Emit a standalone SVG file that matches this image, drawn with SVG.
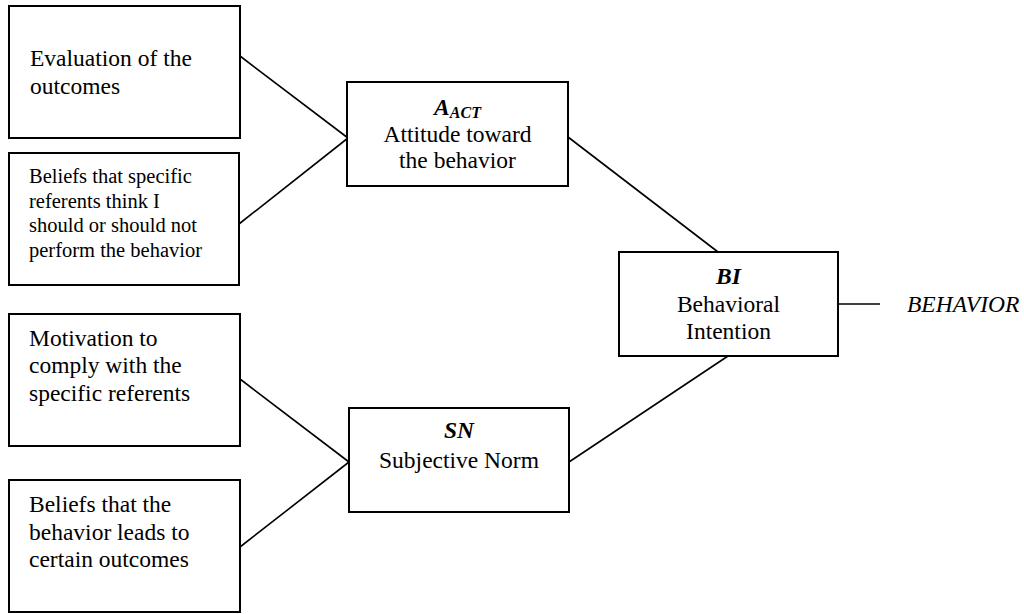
<svg xmlns="http://www.w3.org/2000/svg" width="1024" height="614" viewBox="0 0 1024 614">
<style>
.box{fill:#fff;stroke:#000;stroke-width:2}
.ln{stroke:#000;stroke-width:1.6;fill:none}
.t,.s,.bi,.it{font-family:"Liberation Serif",serif;fill:#000}
.t{font-size:23.5px}
.s{font-size:20.5px}
.c{text-anchor:middle}
.bi{font-weight:bold;font-style:italic}
.it{font-style:italic}
</style>
<rect width="1024" height="614" fill="#fff"/>
<g id="connectors">
<line class="ln" x1="240" y1="56" x2="348" y2="138"/>
<line class="ln" x1="239" y1="224" x2="348" y2="138"/>
<line class="ln" x1="240" y1="379" x2="349" y2="462"/>
<line class="ln" x1="240" y1="547" x2="349" y2="462"/>
<line class="ln" x1="568" y1="137" x2="718" y2="252"/>
<line class="ln" x1="569" y1="462" x2="728" y2="356"/>
<line class="ln" x1="838" y1="304" x2="880" y2="304"/>
</g>
<g font-family="Liberation Serif, serif">
<g id="eval">
<rect class="box" x="9" y="6" width="231" height="132"/>
<text class="t" x="30" y="66">Evaluation of the</text>
<text class="t" x="30" y="94">outcomes</text>
</g>
<g id="beliefs-referents">
<rect class="box" x="9" y="153" width="230" height="132"/>
<text class="s" x="29" y="183">Beliefs that specific</text>
<text class="s" x="29" y="207.5">referents think I</text>
<text class="s" x="29" y="232">should or should not</text>
<text class="s" x="29" y="256.5">perform the behavior</text>
</g>
<g id="motivation">
<rect class="box" x="9" y="314" width="231" height="132"/>
<text class="t" x="29" y="346">Motivation to</text>
<text class="t" x="29" y="373">comply with the</text>
<text class="t" x="29" y="400.5">specific referents</text>
</g>
<g id="beliefs-outcomes">
<rect class="box" x="9" y="480" width="231" height="132"/>
<text class="t" x="29" y="512">Beliefs that the</text>
<text class="t" x="29" y="539.5">behavior leads to</text>
<text class="t" x="29" y="567">certain outcomes</text>
</g>
<g id="aact">
<rect class="box" x="347" y="82" width="221" height="104"/>
<text class="c bi" x="457.5" y="115" font-size="23.5">A<tspan font-size="16" dy="3">ACT</tspan></text>
<text class="t c" x="457.5" y="142">Attitude toward</text>
<text class="t c" x="457.5" y="168">the behavior</text>
</g>
<g id="sn">
<rect class="box" x="349" y="408" width="220" height="104"/>
<text class="t c bi" x="459" y="438">SN</text>
<text class="t c" x="459" y="468">Subjective Norm</text>
</g>
<g id="bi">
<rect class="box" x="619" y="252" width="219" height="104"/>
<text class="t c bi" x="728.5" y="284">BI</text>
<text class="t c" x="728.5" y="312">Behavioral</text>
<text class="t c" x="728.5" y="339">Intention</text>
</g>
<g id="behavior">
<text class="t it" x="907" y="312">BEHAVIOR</text>
</g>
</g>
</svg>
